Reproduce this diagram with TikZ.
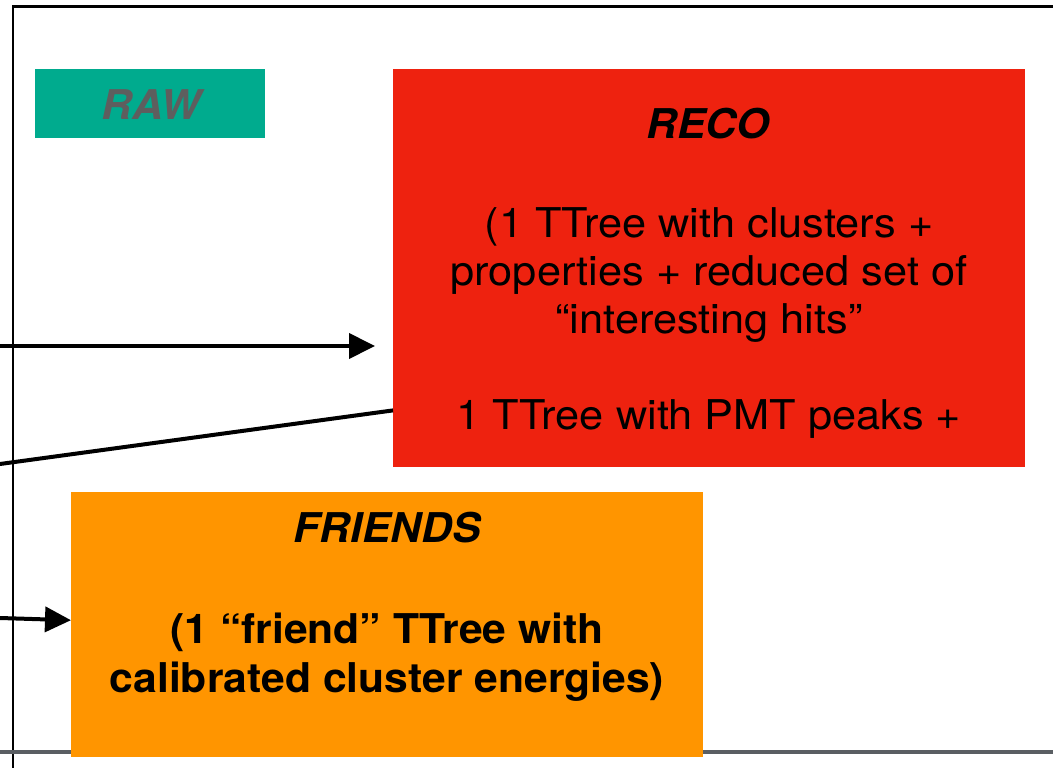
\documentclass[tikz,border=0pt]{standalone}
\usepackage{fontspec}
\setmainfont{TeX Gyre Heros}[FakeStretch=1.04]
\newfontfamily\recofont{TeX Gyre Heros}[FakeStretch=1.057]
\usetikzlibrary{arrows.meta}
\definecolor{rawgreen}{HTML}{00AB8E}
\definecolor{rawtext}{HTML}{5E5E5E}
\definecolor{recored}{HTML}{EE220F}
\definecolor{friendorange}{HTML}{FF9500}
\definecolor{framegray}{HTML}{5A5E63}
\tikzset{
  txt/.style={inner sep=0pt, anchor=base, font=\fontsize{41}{48}\selectfont},
  recotxt/.style={inner sep=0pt, anchor=base, font=\recofont\fontsize{41}{48}\selectfont},
  conn/.style={line width=4pt, black},
  tip/.style={-{Triangle[length=26pt,width=25pt]}}
}
\begin{document}
\begin{tikzpicture}[x=1pt,y=-1pt]
\useasboundingbox (0,0) rectangle (1053,768);
% frame
\draw[line width=3pt, black] (12,7) -- (1053,7);
\draw[line width=2pt, black] (13,5.5) -- (13,768);
\draw[line width=4pt, framegray] (0,752) -- (1053,752);
% boxes
\node[fill=rawgreen, inner sep=0pt, minimum width=230pt, minimum height=69pt, anchor=north west] (raw) at (35,69) {};
\node[fill=recored, inner sep=0pt, minimum width=632pt, minimum height=398pt, anchor=north west] (reco) at (393,69) {};
\node[fill=friendorange, inner sep=0pt, minimum width=632pt, minimum height=265pt, anchor=north west] (friends) at (71,492) {};
% texts
\node[txt, text=rawtext, font=\fontsize{41}{48}\selectfont\bfseries\itshape] (rawt) at (151,119) {RAW};
\node[txt, font=\fontsize{41}{48}\selectfont\bfseries\itshape] (recot) at (708,138) {RECO};
\node[recotxt] (reco1) at (709,237) {(1 TTree with clusters +};
\node[recotxt] (reco2) at (709,285) {properties + reduced set of};
\node[recotxt] (reco3) at (709,333) {“interesting hits”};
\node[recotxt] (reco4) at (709,429) {1 TTree with PMT peaks +};
\node[txt, font=\fontsize{41}{48}\selectfont\bfseries\itshape] (friendst) at (387,542) {FRIENDS};
\node[txt, font=\fontsize{41}{48}\selectfont\bfseries] (fr1) at (387,643) {(1 “friend” TTree with};
\node[txt, font=\fontsize{41}{48}\selectfont\bfseries] (fr2) at (387,692) {calibrated cluster energies)};
% connectors
\coordinate (s1) at (0,346);
\coordinate (s2) at (0,464);
\coordinate (s3) at (0,618);
\draw[conn, tip, shorten >=18pt] (s1) -- (reco.west |- s1);
\draw[conn] (s2) -- ([yshift=57pt]reco.south west);
\draw[conn, tip] (s3) -- ([yshift=4.5pt]friends.west);
\end{tikzpicture}
\end{document}
